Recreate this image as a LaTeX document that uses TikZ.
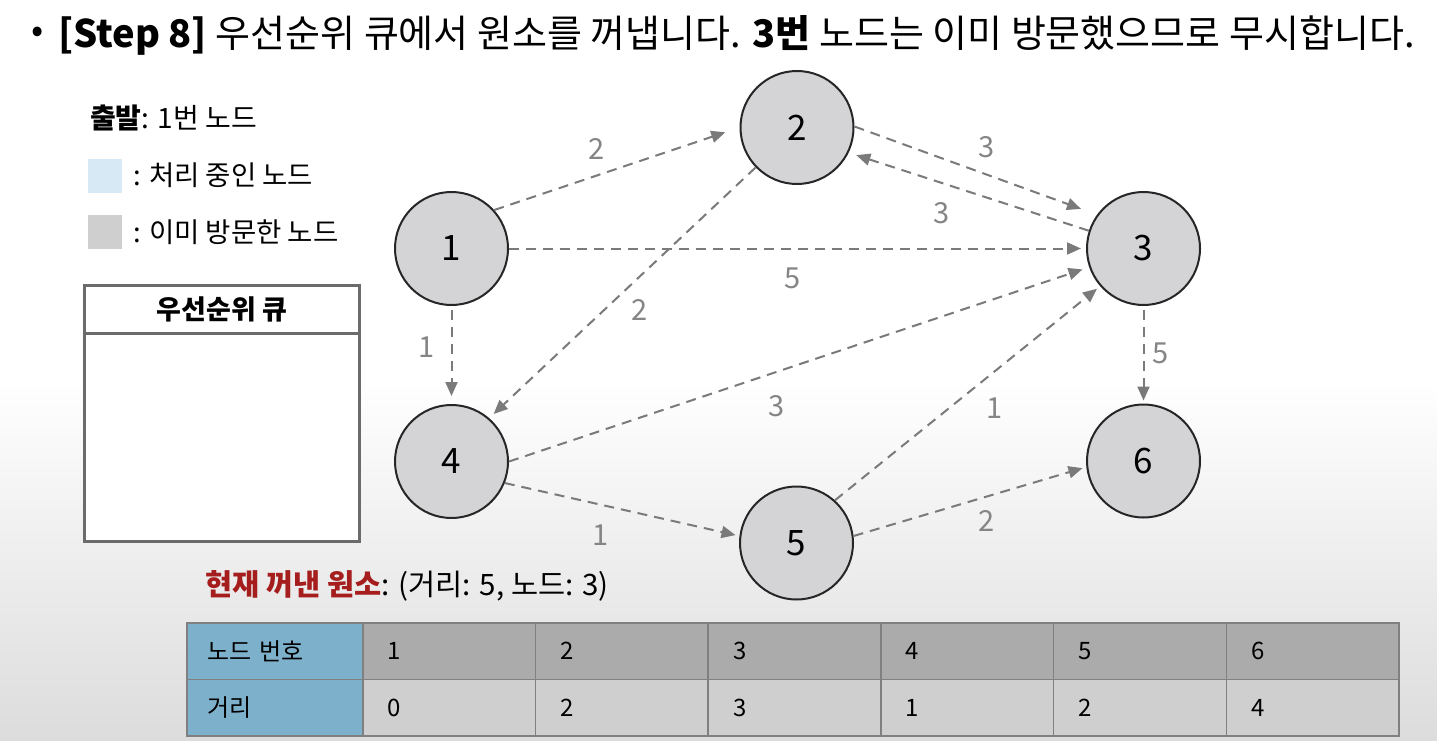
\documentclass[tikz,border=0pt]{standalone}
\usepackage{fontspec}
\setmainfont{Noto Sans CJK KR}
\usetikzlibrary{arrows.meta}
\definecolor{edgegray}{HTML}{7A7A7A}
\definecolor{lblgray}{HTML}{858585}
\definecolor{nodefill}{HTML}{D4D4D6}
\definecolor{procblue}{HTML}{D6E9F5}
\definecolor{visgray}{HTML}{CFCFCF}
\definecolor{boxgray}{HTML}{6B6B6B}
\definecolor{hdrblue}{HTML}{7DB0CB}
\definecolor{rowone}{HTML}{ABABAB}
\definecolor{rowtwo}{HTML}{CFCFCF}
\definecolor{cellline}{HTML}{808080}
\definecolor{curred}{HTML}{A51D1D}
\definecolor{bgbot}{HTML}{DCDCDC}
\newcommand\fsz[1]{\fontsize{#1}{#1}\selectfont}
\begin{document}
\begin{tikzpicture}[x=1pt,y=-1pt,
  vnode/.style={circle,draw=black!85,line width=2,fill=nodefill,minimum size=113,inner sep=0,font=\fsz{35}},
  edge/.style={draw=edgegray,line width=2,dash pattern=on 10pt off 7pt,-{Triangle[length=14pt,width=12pt]},color=edgegray},
  elabel/.style={text=lblgray,font=\fsz{29},inner sep=0},
  legtext/.style={anchor=west,font=\fsz{27.5},inner sep=0},
  cell/.style={draw=cellline,line width=1.5,minimum height=56.5,minimum width=172.7,text width=122.7,align=left,inner xsep=25,anchor=north west,font=\fsz{24}},
  sq/.style={minimum size=34,inner sep=0,anchor=north west}
]
\useasboundingbox (0,0) rectangle (1437,741);
\fill[white] (0,0) rectangle (1437,741);
\shade[top color=white,bottom color=bgbot] (0,380) rectangle (1437,741);

% title
\node[anchor=center,font=\fsz{36}] (bul) at (38,35) {•};
\node[anchor=west,inner sep=0,font=\fsz{38}] (title) at (58,35) {\textbf{[Step 8]} 우선순위 큐에서 원소를 꺼냅니다. \textbf{3번} 노드는 이미 방문했으므로 무시합니다.};

% legend
\node[legtext,font=\fsz{28}] (start) at (90,118) {\textbf{출발}: 1번 노드};
\node[sq,fill=procblue] (sqp) at (88,159) {};
\node[legtext] (legp) at (133,175) {: 처리 중인 노드};
\node[sq,fill=visgray] (sqv) at (88,215) {};
\node[legtext] (legv) at (133,232) {: 이미 방문한 노드};

% queue
\node[draw=boxgray,line width=2.5,minimum width=275,minimum height=48,anchor=north west,fill=white,font=\fsz{27}] (qhead) at (83,284) {\textbf{우선순위 큐}};
\node[draw=boxgray,line width=2.5,minimum width=275,minimum height=208,anchor=north west,fill=white] (qbody) at (83,332) {};

% graph nodes
\node[vnode] (n1) at (451.5,248.5) {1};
\node[vnode] (n2) at (797,127.5) {2};
\node[vnode] (n3) at (1143.5,248.5) {3};
\node[vnode] (n4) at (451.5,461.5) {4};
\node[vnode] (n5) at (796.5,543) {5};
\node[vnode] (n6) at (1143.5,461) {6};

% edges
\draw[edge,shorten >=15] (n1.42) -- (n2.180);
\draw[edge,shorten >=17] (n2.1) -- (n3.144);
\draw[edge,shorten >=8] (n3.162) -- (n2.-26);
\draw[edge,shorten >=5] (n1.0) -- (n3.180);
\draw[edge,shorten >=6] (n2.224) -- (n4.49);
\draw[edge,shorten <=4,shorten >=8] (n1.270) -- (n4.90);
\draw[edge,shorten >=7] (n4.0) -- (n3.199);
\draw[edge,shorten >=4] (n5.48) -- (n3.221);
\draw[edge,shorten >=4] (n4.-22) -- (n5.173);
\draw[edge,shorten >=4] (n5.7) -- (n6.186);
\draw[edge,shorten <=4,shorten >=3] (n3.270) -- (n6.90);

% edge labels
\node[elabel] (l12) at (597,149) {2};
\node[elabel] (l23) at (987,147) {3};
\node[elabel] (l32) at (942,213) {3};
\node[elabel] (l13) at (793,278) {5};
\node[elabel] (l24) at (640,310) {2};
\node[elabel] (l14) at (427,347) {1};
\node[elabel] (l43) at (777,406) {3};
\node[elabel] (l53) at (995,408) {1};
\node[elabel] (l45) at (601,535) {1};
\node[elabel] (l56) at (987,521) {2};
\node[elabel] (l36) at (1161,353) {5};

% current element
\node[anchor=west,inner sep=0,font=\fsz{29.5}] (cur) at (205,586) {\textcolor{curred}{\textbf{현재 꺼낸 원소}}: (거리: 5, 노드: 3)};

% table
\node[cell,fill=hdrblue,minimum width=176,text width=134,inner xsep=21] (h1) at (186,622) {노드 번호};
\node[cell,fill=hdrblue,minimum width=176,text width=134,inner xsep=21] (h2) at (186,678.5) {거리};
\node[cell,fill=rowone] (a1) at (362,622) {1};
\node[cell,fill=rowone] (a2) at (534.7,622) {2};
\node[cell,fill=rowone] (a3) at (707.4,622) {3};
\node[cell,fill=rowone] (a4) at (880.1,622) {4};
\node[cell,fill=rowone] (a5) at (1052.8,622) {5};
\node[cell,fill=rowone] (a6) at (1225.5,622) {6};
\node[cell,fill=rowtwo] (b1) at (362,678.5) {0};
\node[cell,fill=rowtwo] (b2) at (534.7,678.5) {2};
\node[cell,fill=rowtwo] (b3) at (707.4,678.5) {3};
\node[cell,fill=rowtwo] (b4) at (880.1,678.5) {1};
\node[cell,fill=rowtwo] (b5) at (1052.8,678.5) {2};
\node[cell,fill=rowtwo] (b6) at (1225.5,678.5) {4};
\end{tikzpicture}
\end{document}
